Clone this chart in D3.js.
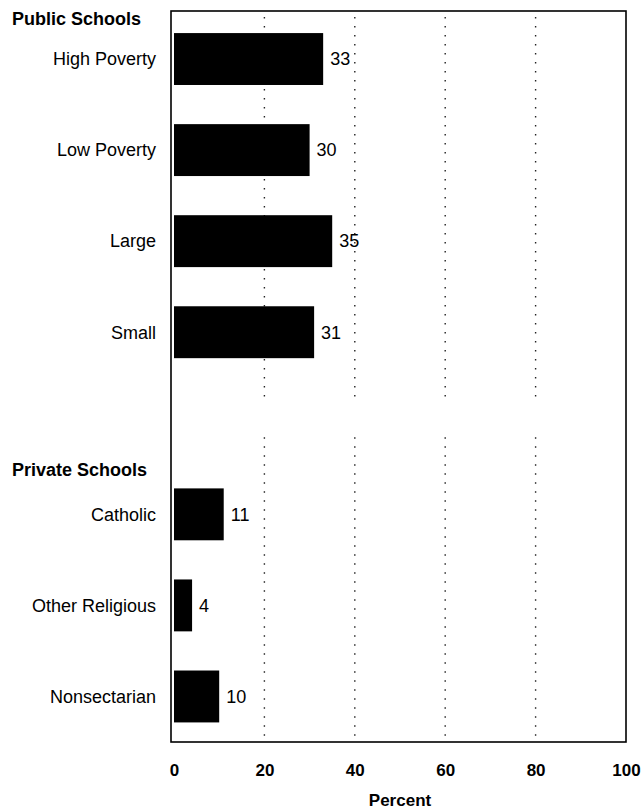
<!DOCTYPE html>
<html>
<head>
<meta charset="utf-8">
<script src="https://cdn.jsdelivr.net/npm/d3@7"></script>
<style>
  body { margin: 0; background: #fff; }
  svg { font-family: "Liberation Sans", Arial, sans-serif; }
</style>
</head>
<body>
<svg width="641" height="811"></svg>
<script>
/* Chart data */
var Groups = ["Public Schools", "Private Schools"];
var Categories = ["High Poverty", "Low Poverty", "Large", "Small", "Catholic", "Other Religious", "Nonsectarian"];
var CategoryGroups = ["Public Schools", "Public Schools", "Public Schools", "Public Schools", "Private Schools", "Private Schools", "Private Schools"];
var Values = [33, 30, 35, 31, 11, 4, 10];
var TickValues = [0, 20, 40, 60, 80, 100];

function Init() {
    var svg = d3.select("svg");

    var plot = {left: 174, right: 626, top: 11, bottom: 742};

    /* Rows: the bars, with one empty slot between the two groups */
    var rows = [];
    for (var i = 0; i < Categories.length; i++) {
        if (i > 0 && CategoryGroups[i] != CategoryGroups[i - 1])
            rows.push("gap");
        rows.push(Categories[i]);
    }

    var xScale = d3.scaleLinear().domain([0, 100]).range([plot.left, plot.right]);
    var yScale = d3.scaleBand().domain(rows)
                   .range([plot.top + 2.5, plot.bottom])
                   .paddingInner(0.43).paddingOuter(0.215);

    // Dotted gridlines, broken in the gap between the groups
    var gapTop = yScale("gap") + 4;
    var gapBottom = yScale("gap") + 40;
    var segments = [[plot.top + 6, gapTop], [gapBottom, plot.bottom - 2]];
    TickValues.filter(function(d) { return d > 0 && d < 100; }).forEach(function(t) {
        segments.forEach(function(s) {
            svg.append("line")
               .attr("x1", xScale(t)).attr("x2", xScale(t))
               .attr("y1", s[0]).attr("y2", s[1])
               .attr("stroke", "#222")
               .attr("stroke-width", 1.4)
               .attr("stroke-dasharray", "1.4,7.6");
        });
    });

    // Bars
    svg.append("g")
       .selectAll("rect").data(Categories).enter()
         .append("rect")
         .attr("x", xScale(0))
         .attr("y", function(d) { return yScale(d); })
         .attr("width", function(d, i) { return xScale(Values[i]) - xScale(0); })
         .attr("height", yScale.bandwidth())
         .attr("fill", "#000");

    // Value labels
    svg.append("g")
       .selectAll("text").data(Categories).enter()
         .append("text")
         .attr("x", function(d, i) { return xScale(Values[i]) + 7; })
         .attr("y", function(d) { return yScale(d) + yScale.bandwidth() / 2; })
         .attr("dy", "0.35em")
         .style("font-size", "18px")
         .text(function(d, i) { return Values[i]; });

    // Category labels
    svg.append("g")
       .selectAll("text").data(Categories).enter()
         .append("text")
         .attr("text-anchor", "end")
         .attr("x", 156)
         .attr("y", function(d) { return yScale(d) + yScale.bandwidth() / 2; })
         .attr("dy", "0.35em")
         .style("font-size", "18px")
         .text(function(d) { return d; });

    // Group headers
    svg.append("g")
       .selectAll("text").data(Groups).enter()
         .append("text")
         .attr("x", 12)
         .attr("y", function(d) {
             var first = Categories[CategoryGroups.indexOf(d)];
             return yScale(first) + yScale.bandwidth() / 2 - (d == "Public Schools" ? 40 : 45);
         })
         .attr("dy", "0.35em")
         .style("font-size", "18px")
         .style("font-weight", "bold")
         .text(function(d) { return d; });

    // Frame
    svg.append("rect")
       .attr("x", plot.left - 3).attr("y", plot.top)
       .attr("width", plot.right - plot.left + 3)
       .attr("height", plot.bottom - plot.top)
       .attr("fill", "none")
       .attr("stroke", "#000")
       .attr("stroke-width", 1.6);

    // X axis (labels only)
    var axis = svg.append("g")
       .attr("transform", "translate(0," + (plot.bottom + 16) + ")")
       .call(d3.axisBottom(xScale).tickValues(TickValues).tickSize(0).tickPadding(6));
    axis.select(".domain").remove();
    axis.selectAll("text")
        .style("font-family", "Liberation Sans, Arial, sans-serif")
        .style("font-size", "17px")
        .style("font-weight", "bold")
        .attr("fill", "#000");

    svg.append("text")
       .attr("text-anchor", "middle")
       .attr("x", 400)
       .attr("y", 806)
       .style("font-size", "17px")
       .style("font-weight", "bold")
       .text("Percent");
}

Init();
</script>
</body>
</html>
